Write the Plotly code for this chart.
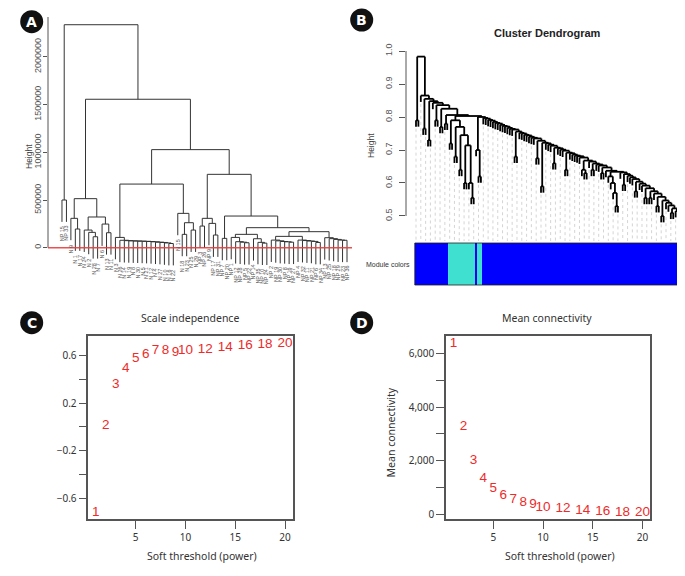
import plotly.graph_objects as go

# the page body keeps its 8px default margin, so the figure is laid out
# in reference pixel coordinates shifted by that offset
OFF = 8
FIG_W, FIG_H = 677, 560
R_FONT = "Liberation Sans, Arial, sans-serif"
J_FONT = "Noto Sans, sans-serif"

# ---- panel A: sample clustering, merge height (x1000) between neighbouring leaves
a_labels = ["NP 15", "NP 33",
            "N 9", "N 1", "N 17", "N 24", "N 2", "N 28", "N 7", "N 6", "N 13", "N 11",
            "N 3", "N 26", "N 14", "N 19", "N 8", "N 30", "N 5", "N 21", "N 12", "N 4",
            "N 27", "N 10", "N 16", "N 22",
            "N 15", "N 18", "N 23", "N 25", "N 29",
            "NP 3", "NP 26", "NP 9", "NP 17", "NP 31",
            "NP 7", "NP 20",
            "NP 1", "NP 12", "NP 28", "NP 5", "NP 22", "NP 14", "NP 35", "NP 10", "NP 24",
            "NP 2", "NP 19", "NP 30", "NP 8", "NP 16", "NP 27", "NP 4", "NP 32", "NP 11",
            "NP 21", "NP 6", "NP 34",
            "NP 13", "NP 25", "NP 18", "NP 29", "NP 23", "NP 36"]
a_gaps_k = [500, 2337, 308, 196, 514, 185, 161, 115, 322, 248, 157, 1556,
            108, 78, 74, 72, 70, 69, 67, 65, 62, 58, 55, 50, 44,
            667, 360, 140, 262, 185,
            1028, 227, 308, 255, 133,
            769, 98, 332,
            108, 63, 58, 52, 140, 94, 56, 48,
            210, 80, 72, 65, 62, 58, 119, 80, 75, 70, 66, 55,
            168, 105, 95, 87, 80, 78]
a_ticks = [0, 500000, 1000000, 1500000, 2000000]

# ---- panel B: gene dendrogram (merge height between neighbouring leaves)
b_gaps = [0.790, 0.983,
          0.865, 0.765, 0.855, 0.730, 0.848, 0.843, 0.790, 0.836, 0.770, 0.825, 0.780,
          0.806,
          0.720, 0.790, 0.680, 0.770, 0.640, 0.745, 0.600, 0.714, 0.600, 0.555,
          0.803,
          0.700, 0.620,
          0.800,
          0.797, 0.795, 0.791, 0.789, 0.785, 0.782, 0.780, 0.776, 0.773, 0.771, 0.767,
          0.764, 0.762, 0.680, 0.756, 0.752, 0.750, 0.746, 0.744, 0.740, 0.737, 0.735,
          0.675, 0.728, 0.590, 0.722, 0.720, 0.716, 0.713, 0.660, 0.707, 0.705, 0.701,
          0.698, 0.640, 0.692, 0.690, 0.686, 0.683, 0.681, 0.677, 0.640, 0.630, 0.668,
          0.665, 0.640, 0.659, 0.656, 0.653, 0.630, 0.647,
          0.637,
          0.620, 0.600, 0.570, 0.530,
          0.634,
          0.632, 0.595, 0.627, 0.622, 0.617, 0.612, 0.575, 0.604, 0.598, 0.592, 0.555,
          0.584, 0.555, 0.575, 0.568, 0.530, 0.558, 0.500, 0.547, 0.540, 0.532, 0.510,
          0.523, 0.515]
b_module_names = ["blue", "turquoise", "blue", "turquoise", "blue"]
b_module_sizes = [14, 11, 1, 2, 82]
b_ticks = [0.5, 0.6, 0.7, 0.8, 0.9, 1.0]

# ---- panels C / D: soft threshold picking
powers = [1, 2, 3, 4, 5, 6, 7, 8, 9, 10, 12, 14, 16, 18, 20]
scale_free_r2 = [-0.719, 0.008, 0.359, 0.494, 0.575, 0.612, 0.640, 0.640, 0.623,
                 0.640, 0.654, 0.667, 0.681, 0.695, 0.704]
mean_conn = [6393, 3264, 1993, 1346, 957, 710, 535, 422, 359, 262, 198, 135, 112, 75, 60]


def fx(p):
    return (p - OFF) / FIG_W


def fy(p):
    return 1 - (p - OFF) / FIG_H


def dendro(gaps, hang):
    """Segments of an hclust-style dendrogram from neighbour merge heights."""
    n = len(gaps) + 1
    drop = hang * (max(gaps) - min(gaps))
    xs, ys, ends = [], [], [0.0] * n

    def build(lo, hi):
        if lo == hi:
            return float(lo), None
        k = max(range(lo, hi), key=lambda j: gaps[j])
        h = gaps[k]
        xl, hl = build(lo, k)
        xr, hr = build(k + 1, hi)
        for xc, hc in ((xl, hl), (xr, hr)):
            if hc is None:
                hc = h - drop
                ends[int(xc)] = hc
            xs.extend([xc, xc, None])
            ys.extend([hc, h, None])
        xs.extend([xl, xr, None])
        ys.extend([h, h, None])
        return (xl + xr) / 2, h

    build(0, n - 1)
    return xs, ys, ends


fig = go.Figure()

# panel A
a_gaps = [g * 1000 for g in a_gaps_k]
ax, ay, a_ends = dendro(a_gaps, 0.1)
fig.add_trace(go.Scatter(x=ax, y=ay, mode="lines", line=dict(color="#333", width=1),
                         hoverinfo="skip", xaxis="x", yaxis="y"))

# panel B
bx, by, b_ends = dendro(b_gaps, 0.04)
gx, gy = [], []
for i, e in enumerate(b_ends):
    if i % 2 == 0:
        gx.extend([i, i, None])
        gy.extend([e - 0.006, 0.424, None])
fig.add_trace(go.Scatter(x=gx, y=gy, mode="lines",
                         line=dict(color="#b8b8b8", width=0.6, dash="dot"),
                         hoverinfo="skip", xaxis="x2", yaxis="y2"))
fig.add_trace(go.Scatter(x=bx, y=by, mode="lines", line=dict(color="black", width=1.8),
                         hoverinfo="skip", xaxis="x2", yaxis="y2"))

module_code = []
for name, size in zip(b_module_names, b_module_sizes):
    module_code += [0 if name == "blue" else 1] * size
fig.add_trace(go.Heatmap(z=[module_code], x=list(range(len(module_code))), y=[0],
                         colorscale=[[0, "#0000FF"], [1, "#40E0D0"]], zmin=0, zmax=1,
                         showscale=False, hoverinfo="skip", xaxis="x3", yaxis="y3"))

# panels C and D
txt_font = dict(color="#EE2A2A", size=13.5, family=R_FONT)
fig.add_trace(go.Scatter(x=powers, y=scale_free_r2, mode="text",
                         text=[str(p) for p in powers], textfont=txt_font,
                         xaxis="x4", yaxis="y4"))
fig.add_trace(go.Scatter(x=powers, y=mean_conn, mode="text",
                         text=[str(p) for p in powers], textfont=txt_font,
                         xaxis="x5", yaxis="y5"))

r_tick = dict(size=9, color="#555", family=R_FONT)
box_axis = dict(showline=True, mirror=True, linecolor="#555", linewidth=1.5,
                ticks="outside", ticklen=8, tickcolor="#555", showgrid=False,
                zeroline=False, automargin=False,
                tickfont=dict(size=10, color="#333", family=J_FONT))

fig.update_layout(
    width=FIG_W, height=FIG_H, margin=dict(l=0, r=0, t=0, b=0, pad=0, autoexpand=False),
    paper_bgcolor="white", plot_bgcolor="white", showlegend=False,
    xaxis=dict(domain=[fx(48), fx(352)], range=[-3.14, 65.12], visible=False,
               anchor="y", automargin=False),
    yaxis=dict(domain=[fy(300), fy(17)], range=[-548000, 2418000], anchor="x",
               tickvals=a_ticks, ticktext=[str(t) for t in a_ticks], tickangle=-90,
               ticks="outside", ticklen=4, tickcolor="#555", tickfont=r_tick,
               ticklabelstandoff=-2,
               showgrid=False, zeroline=False, showline=False, automargin=False),
    xaxis2=dict(domain=[fx(406), fx(682)], range=[-4.16, 110.65], visible=False,
                anchor="y2", automargin=False),
    yaxis2=dict(domain=[fy(241), fy(45)], range=[0.4242, 1.0182], anchor="x2",
                tickvals=b_ticks, ticktext=["%.1f" % t for t in b_ticks], tickangle=-90,
                ticks="outside", ticklen=6, tickcolor="#555", tickfont=r_tick,
                ticklabelstandoff=3,
                showgrid=False, zeroline=False, showline=False, automargin=False),
    xaxis3=dict(domain=[fx(406), fx(682)], range=[-4.16, 110.65], visible=False,
                anchor="y3", automargin=False),
    yaxis3=dict(domain=[fy(285), fy(243)], range=[-0.5, 0.5], visible=False,
                anchor="x3", automargin=False),
    xaxis4=dict(box_axis, domain=[fx(88.3), fx(292.6)], range=[0.24, 20.76], anchor="y4",
                tickvals=[5, 10, 15, 20]),
    yaxis4=dict(box_axis, domain=[fy(519.3), fy(336)], range=[-0.778, 0.766], anchor="x4",
                tickvals=[-0.6, -0.4, -0.2, 0, 0.2, 0.4, 0.6],
                ticktext=["\u22120.6", "", "\u22120.2", "", "0.2", "", "0.6"]),
    xaxis5=dict(box_axis, domain=[fx(446), fx(650)], range=[0.24, 20.76], anchor="y5",
                tickvals=[5, 10, 15, 20]),
    yaxis5=dict(box_axis, domain=[fy(519.3), fy(336)], range=[-187, 6661], anchor="x5",
                tickvals=[0, 1000, 2000, 3000, 4000, 5000, 6000],
                ticktext=["0", "", "2,000", "", "4,000", "", "6,000"]),
)

shapes = [
    dict(type="line", xref="x domain", yref="y", x0=0, x1=0, y0=0, y1=2418000,
         line=dict(color="#555", width=1)),
    dict(type="line", xref="x domain", yref="y", x0=0, x1=1, y0=0, y1=0,
         line=dict(color="rgba(240,60,60,0.9)", width=1.5)),
    dict(type="line", xref="x2 domain", yref="y2", x0=0, x1=0, y0=0.5, y1=1.0,
         line=dict(color="#555", width=1)),
    dict(type="rect", xref="x3", yref="y3 domain", x0=-0.5, x1=len(module_code) - 0.5,
         y0=0, y1=1, line=dict(color="#222", width=0.8)),
]
annotations = []
for (cx, cy, letter) in [(31.7, 21.7, "A"), (361.7, 20, "B"), (31.7, 322.7, "C"), (361.7, 322.7, "D")]:
    r = 11.5
    shapes.append(dict(type="circle", xref="paper", yref="paper", x0=fx(cx - r), x1=fx(cx + r),
                       y0=fy(cy + r), y1=fy(cy - r), fillcolor="#111", line=dict(width=0)))
    annotations.append(dict(x=fx(cx), y=fy(cy), xref="paper", yref="paper", text="<b>%s</b>" % letter,
                            showarrow=False, xanchor="center", yanchor="middle",
                            font=dict(color="white", size=14, family="DejaVu Sans")))

for i, lab in enumerate(a_labels):
    annotations.append(dict(x=i, y=a_ends[i] - 20000, xref="x", yref="y", text=lab,
                            textangle=-90, yanchor="top", xanchor="center", showarrow=False,
                            font=dict(size=5.5, color="#555", family=R_FONT)))


def label(px, py, text, size, angle=0, family=J_FONT, color="#333", xanchor="center"):
    annotations.append(dict(x=fx(px), y=fy(py), xref="paper", yref="paper", text=text,
                            textangle=angle, showarrow=False, xanchor=xanchor, yanchor="middle",
                            font=dict(size=size, color=color, family=family)))


label(29, 157, "Height", 8.5, -90, R_FONT, "#444")
label(547, 33, "<b>Cluster Dendrogram</b>", 11, 0, R_FONT, "#222")
label(371, 146, "Height", 8.5, -90, R_FONT, "#444")
label(412, 265, "Module colors", 7, 0, R_FONT, "#333", "right")
label(190, 318, "Scale independence", 10.5)
label(201.7, 556, "Soft threshold (power)", 10.5)
label(546.7, 318.3, "Mean connectivity", 10.5)
label(560, 556, "Soft threshold (power)", 10.5)
label(390.7, 432.7, "Mean connectivity", 10.5, -90)

fig.update_layout(shapes=shapes, annotations=annotations)
fig.write_html("out.html")
